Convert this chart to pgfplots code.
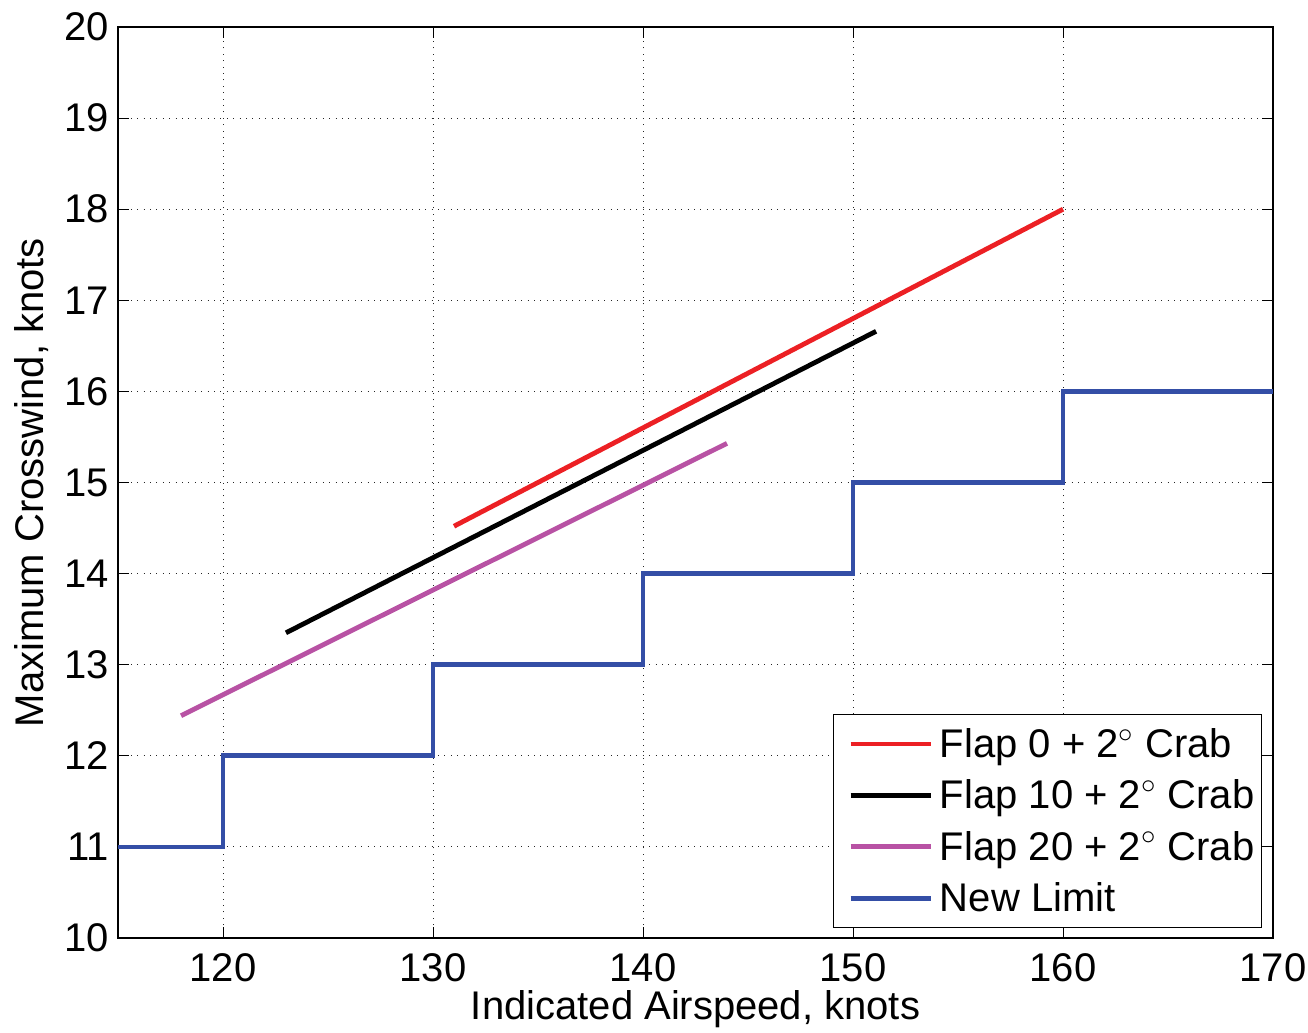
\documentclass[border=0pt]{standalone}
\usepackage{fontspec}
\setmainfont{Liberation Sans}
\usepackage{pgfplots}
\pgfplotsset{compat=1.18}

\definecolor{flapzero}{RGB}{236,32,36}
\definecolor{flapten}{RGB}{0,0,0}
\definecolor{flaptwenty}{RGB}{184,82,164}
\definecolor{newlimit}{RGB}{52,78,166}

\begin{document}
\fontsize{20}{24}\selectfont
\begin{tikzpicture}
\begin{axis}[
  scale only axis,
  width=577.5pt, height=455.5pt,
  xmin=115, xmax=170, ymin=10, ymax=20,
  xtick={120,130,...,170},
  ytick={10,11,...,20},
  tick align=inside,
  major tick length=5.5pt,
  tick style={black, line width=0.5pt},
  axis line style={black, line width=0.75pt},
  grid=major,
  major grid style={black!85, line width=0.5pt, dash pattern=on 0.5pt off 2.7pt},
  /pgf/number format/assume math mode=true,
  /pgf/number format/1000 sep={},
  ticklabel style={font=\fontsize{20}{24}\selectfont, inner sep=0pt},
  xticklabel style={anchor=north, yshift=-7.5pt},
  yticklabel style={anchor=east, xshift=-4.5pt},
  label style={font=\fontsize{20}{24}\selectfont, inner sep=0pt},
  xlabel={Indicated Airspeed, knots},
  ylabel={Maximum Crosswind, knots},
  xlabel style={at={(axis description cs:0.5,-0.0900)}, anchor=base},
  ylabel style={at={(axis description cs:-0.0649,0.5)}, anchor=base},
  legend cell align=left,
  legend style={
    at={(1,0)}, anchor=south east, xshift=-5.5pt, yshift=5pt,
    draw=black, line width=0.6pt,
    font=\fontsize{20}{24}\selectfont,
    inner xsep=3.5pt, inner ysep=5.3pt,
    row sep=7pt, column sep=3.5pt,
    nodes={inner sep=0pt, text height=16pt, text depth=2.7pt},
  },
  legend image code/.code={
    \path (0pt,0pt);
    \draw[#1] (4pt,0pt) -- (44pt,0pt);
  },
]
\addplot[flapzero, line width=2.4pt] coordinates {(131,14.52) (160,18.0)};
\addlegendentry{Flap 0 + 2$^{\circ}$ Crab}
\addplot[flapten, line width=2.4pt] coordinates {(123,13.35) (151.1,16.66)};
\addlegendentry{Flap 10 + 2$^{\circ}$ Crab}
\addplot[flaptwenty, line width=2.4pt] coordinates {(118,12.44) (144,15.43)};
\addlegendentry{Flap 20 + 2$^{\circ}$ Crab}
\addplot[newlimit, line width=2.4pt] coordinates {
  (115,11) (120,11) (120,12) (130,12) (130,13) (140,13) (140,14)
  (150,14) (150,15) (160,15) (160,16) (170,16)};
\addlegendentry{New Limit}
\end{axis}
% page margins around the axis box
\pgfresetboundingbox
\path ([shift={(-59pt,-47pt)}]current axis.south west)
  rectangle ([shift={(17.5pt,13.5pt)}]current axis.north east);
\end{tikzpicture}
\end{document}
